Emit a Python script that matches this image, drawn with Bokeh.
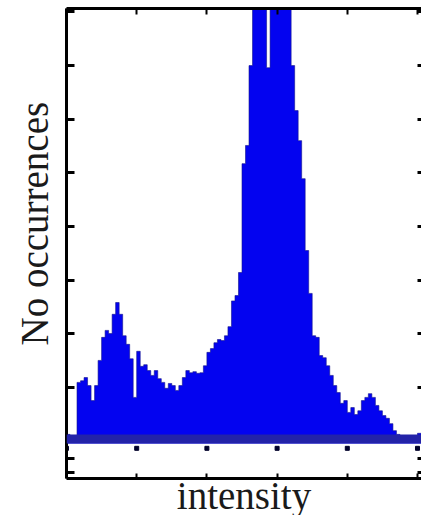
import math
from bokeh.plotting import figure
from bokeh.models import LinearAxis, FixedTicker, Range1d, BoxAnnotation, Title
from bokeh.embed import file_html
from bokeh.resources import INLINE

# ---- data ----
bin_start = 0.0
bin_width = 0.05
counts = [12, 10, 10, 109, 112, 118, 103, 75, 103, 150,
          193, 206, 200, 236, 258, 236, 196, 180, 153, 81,
          167, 139, 142, 131, 122, 131, 116, 109, 98, 107,
          103, 94, 103, 118, 131, 127, 129, 126, 127, 140,
          165, 172, 183, 189, 187, 196, 213, 261, 271, 314,
          517, 551, 700, 820, 900, 950, 990, 696, 1000, 980,
          960, 930, 890, 850, 700, 616, 560, 489, 355, 275,
          196, 193, 159, 155, 140, 122, 103, 90, 70, 75,
          53, 62, 49, 56, 75, 81, 88, 81, 66, 56,
          47, 42, 32, 19, 12, 8, 6, 6, 6, 6,
          14]
x_ticks = [0, 1, 2, 3, 4, 5]
y_ticks = [-59, -33, 0, 100, 200, 300, 400, 500, 600, 700, 800]
x_label = "intensity"
y_label = "No occurrences"

centers = [bin_start + (i + 0.5) * bin_width for i in range(len(counts))]
# extend the step outline to the outer bin edges
step_x = [bin_start] + centers + [bin_start + len(counts) * bin_width]
step_y = [counts[0]] + counts + [counts[-1]]

BLUE = "#0303f0"
EDGE = "#14148c"
FONT = "Liberation Serif"

p = figure(width=421, height=515,
           x_range=Range1d(0, 5.057), y_range=Range1d(-70.3, 806.5),
           output_backend="svg", toolbar_location=None,
           x_axis_location=None, y_axis_location=None,
           min_border_left=66, min_border_right=0,
           min_border_top=8, min_border_bottom=37)
p.grid.visible = False
p.outline_line_color = None
p.background_fill_color = "white"
p.border_fill_color = "white"

p.varea_step(x=step_x, y1=[-5] * len(step_x), y2=step_y,
             step_mode="center", fill_color=BLUE)
p.step(x=step_x, y=step_y, mode="center", line_color=EDGE,
       line_width=1, line_alpha=0.6)

p.add_layout(BoxAnnotation(bottom=-5, top=12, fill_color="#2323a8",
                           fill_alpha=1, line_color=None))

p.scatter(x=x_ticks, y=[-14] * len(x_ticks), marker="square", size=4,
          color="#00002a")


def make_axis(ticks, tick_in, lw, show_line=True):
    ax = LinearAxis(ticker=FixedTicker(ticks=ticks, minor_ticks=[]),
                    major_tick_in=tick_in, major_tick_out=0,
                    major_tick_line_width=lw, major_tick_line_color="black",
                    minor_tick_line_color=None,
                    axis_line_width=3,
                    axis_line_color="black" if show_line else None,
                    major_label_overrides={t: "" for t in ticks},
                    major_label_text_font_size="0px",
                    major_label_standoff=0)
    return ax


p.add_layout(make_axis(y_ticks, 8, 3), "left")
p.add_layout(make_axis(y_ticks, 4, 3, show_line=False), "right")
p.add_layout(make_axis(x_ticks, 5, 2), "below")
p.add_layout(make_axis(x_ticks, 6, 2), "above")

p.add_layout(Title(text=x_label, align="center", vertical_align="top",
                   standoff=-10, text_font=FONT, text_font_size="39px",
                   text_font_style="normal", text_color="#1a1a1a"), "below")
p.add_layout(Title(text=y_label, align="left", vertical_align="top",
                   offset=133, standoff=18,
                   text_font=FONT, text_font_size="39px",
                   text_font_style="normal", text_color="#1a1a1a"), "left")

open("out.html", "w").write(file_html(p, INLINE))
